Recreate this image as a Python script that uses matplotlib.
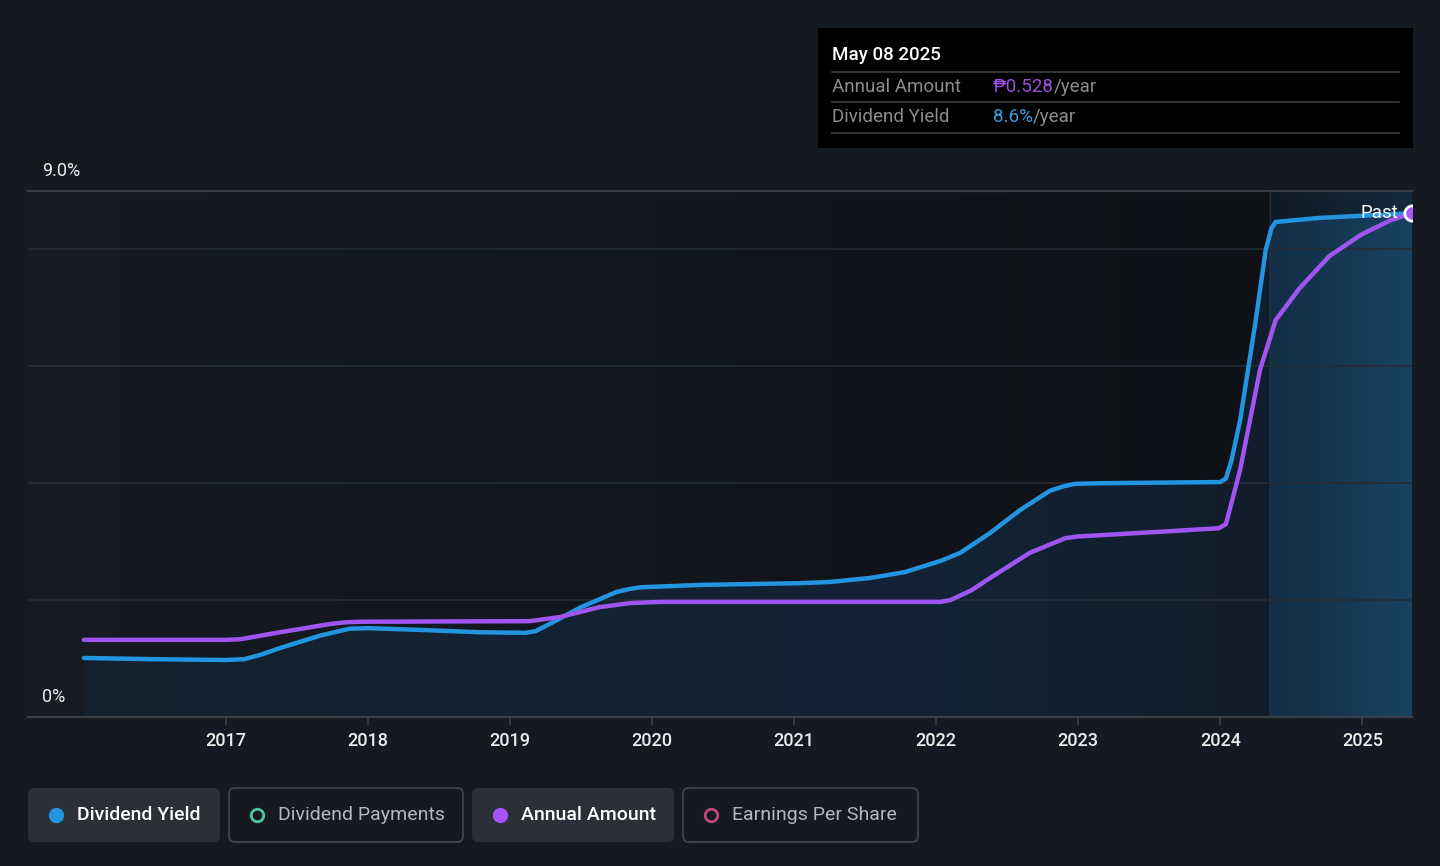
import numpy as np
import matplotlib
matplotlib.use("Agg")
import matplotlib.pyplot as plt
from matplotlib.patches import Rectangle, FancyBboxPatch, Polygon
from matplotlib.colors import to_rgb

plt.rcParams['font.family'] = ['Roboto', 'DejaVu Sans']

# ---- data ----
yield_years = [2016.0, 2016.46, 2017.0, 2017.13, 2017.25, 2017.38, 2017.66, 2017.78,
               2017.87, 2018.0, 2018.37, 2018.79, 2019.11, 2019.18, 2019.3, 2019.5,
               2019.75, 2019.84, 2019.92, 2020.34, 2021.04, 2021.25, 2021.54, 2021.78,
               2022.03, 2022.17, 2022.38, 2022.59, 2022.8, 2022.9, 2022.98, 2023.15,
               2024.0, 2024.04, 2024.08, 2024.14, 2024.25, 2024.32, 2024.36, 2024.39,
               2024.7, 2025.35]
dividend_yield = [1.01, 0.99, 0.975, 0.99, 1.07, 1.18, 1.39, 1.46,
                  1.51, 1.52, 1.49, 1.45, 1.44, 1.47, 1.62, 1.88,
                  2.14, 2.19, 2.22, 2.26, 2.29, 2.31, 2.38, 2.48,
                  2.67, 2.81, 3.15, 3.54, 3.87, 3.95, 3.99, 4.0,
                  4.02, 4.08, 4.4, 5.08, 6.79, 7.99, 8.36, 8.47,
                  8.54, 8.62]

amount_years = [2016.0, 2017.0, 2017.1, 2017.38, 2017.73, 2017.84, 2017.94, 2019.14,
                2019.35, 2019.63, 2019.85, 2020.06, 2022.03, 2022.1, 2022.25, 2022.38,
                2022.66, 2022.91, 2023.0, 2023.15, 2023.65, 2023.99, 2024.04, 2024.14,
                2024.28, 2024.39, 2024.56, 2024.77, 2024.99, 2025.2, 2025.35]
# annual amount, drawn on the yield scale as in the original chart
annual_amount = [1.32, 1.32, 1.33, 1.45, 1.59, 1.62, 1.63, 1.64,
                 1.71, 1.88, 1.95, 1.97, 1.97, 2.0, 2.17, 2.38,
                 2.81, 3.06, 3.09, 3.11, 3.18, 3.23, 3.30, 4.23,
                 5.94, 6.79, 7.34, 7.89, 8.25, 8.5, 8.62]

year_ticks = [2017, 2018, 2019, 2020, 2021, 2022, 2023, 2024, 2025]
past_start = 2024.35
x_min, x_max = 2015.606, 2025.35
y_max = 9.0

legend_items = ["Dividend Yield", "Dividend Payments", "Annual Amount", "Earnings Per Share"]

# ---- colours ----
BG = "#151a22"
BLUE = "#2394df"
PURPLE = "#9f55ef"
GRID = "#262c35"
AXIS = "#3a3f47"
TEXT = "#ececec"

W, H = 1440, 866
fig = plt.figure(figsize=(W / 100, H / 100), dpi=100)
fig.patch.set_facecolor(BG)

# main axes, placed in pixels
px0, px1, py0, py1 = 28, 1412, 191, 717
ax = fig.add_axes([px0 / W, 1 - py1 / H, (px1 - px0) / W, (py1 - py0) / H])
ax.set_xlim(x_min, x_max)
ax.set_ylim(0, y_max)
ax.set_facecolor(BG)
for s in ax.spines.values():
    s.set_visible(False)


def gradient_image(stops, n=600):
    xs = np.linspace(x_min, x_max, n)
    sx = [p for p, _ in stops]
    cols = np.array([to_rgb(c) for _, c in stops])
    img = np.zeros((2, n, 3))
    for k in range(3):
        img[:, :, k] = np.interp(xs, sx, cols[:, k])
    return img


# background of the plotting area
bg_img = gradient_image([(x_min, "#161b24"), (past_start - 0.001, "#0e1116"),
                         (past_start, "#0f1a25"), (x_max, "#13293c")], n=1200)
ax.imshow(bg_img, extent=[x_min, x_max, 0, y_max], aspect='auto',
          interpolation='bilinear', zorder=0)

# area under the dividend yield line
fill_img = gradient_image([(x_min, "#14212f"), (2022.0, "#122335"),
                           (past_start - 0.001, "#111d2a"),
                           (past_start, "#122d45"), (x_max, "#184261")], n=1200)
im = ax.imshow(fill_img, extent=[x_min, x_max, 0, y_max], aspect='auto',
               interpolation='bilinear', zorder=1)
verts = np.column_stack([[yield_years[0]] + yield_years + [yield_years[-1]],
                         [0] + dividend_yield + [0]])
area = Polygon(verts, closed=True, facecolor='none', edgecolor='none')
ax.add_patch(area)
im.set_clip_path(area)

# grid
for g in [2, 4, 6, 8]:
    ax.axhline(g, color=GRID, lw=1.2, zorder=2)
ax.axhline(y_max, color=AXIS, lw=1.6, zorder=2, clip_on=False)
ax.axhline(0, color=AXIS, lw=1.6, zorder=2, clip_on=False)
ax.axvline(past_start, color="#1e3244", lw=1.0, zorder=2)

# lines
ax.plot(yield_years, dividend_yield, color=BLUE, lw=3.2, zorder=4,
        solid_capstyle='round', solid_joinstyle='round')
ax.plot(amount_years, annual_amount, color=PURPLE, lw=3.2, zorder=5,
        solid_capstyle='round', solid_joinstyle='round')
ax.plot([amount_years[-1]], [annual_amount[-1]], 'o', ms=11, mfc="#a855f7",
        mec="white", mew=2, zorder=6, clip_on=True)
ax.text(amount_years[-1] - 0.1, annual_amount[-1], "Past", color="white",
        fontsize=13.5, ha='right', va='center', zorder=7)

# ticks
ax.set_xticks(year_ticks)
ax.set_xticklabels([str(y) for y in year_ticks], fontweight='medium')
ax.set_yticks([])
ax.tick_params(axis='x', colors=AXIS, length=6, width=1.2, pad=5,
               labelcolor=TEXT, labelsize=13)

# overlay axes in pixel coordinates for labels, tooltip and legend
ov = fig.add_axes([0, 0, 1, 1])
ov.set_xlim(0, W)
ov.set_ylim(H, 0)
ov.axis('off')
ov.patch.set_alpha(0)

ov.text(42, 171, "9.0%", color=TEXT, fontsize=13, ha='left', va='center')
ov.text(42, 697, "0%", color=TEXT, fontsize=13, ha='left', va='center')

# tooltip box
ov.add_patch(Rectangle((818, 28), 595, 120, facecolor="black", edgecolor='none'))
ov.text(832, 55, "May 08 2025", color="white", fontsize=13.5, ha='left', va='center',
        fontweight='medium')
for ly in [72, 102, 133]:
    ov.plot([832, 1399], [ly, ly], color="#3a3a3a", lw=1.3)
ov.text(832, 87, "Annual Amount", color="#8c8c8c", fontsize=13.5, ha='left', va='center')
t = ov.text(993, 87, "\u20b10.528", color="#9b4fe0", fontsize=13.5, ha='left', va='center')
ov.annotate("/year", xycoords=t, xy=(1, 0.5), va='center', ha='left',
            color="#8c8c8c", fontsize=13.5)
ov.text(832, 117, "Dividend Yield", color="#8c8c8c", fontsize=13.5, ha='left', va='center')
t = ov.text(993, 117, "8.6%", color="#3a9ad9", fontsize=13.5, ha='left', va='center')
ov.annotate("/year", xycoords=t, xy=(1, 0.5), va='center', ha='left',
            color="#8c8c8c", fontsize=13.5)

# legend buttons
buttons = [
    (28, 192, True, BLUE, True),
    (229, 234, False, "#4fc3a8", False),
    (472, 202, True, "#a855f7", True),
    (683, 235, False, "#c2457e", False),
]
for label, (bx, bw, active, col, filled) in zip(legend_items, buttons):
    by, bh = 788, 54
    if active:
        ov.add_patch(FancyBboxPatch((bx, by), bw, bh, boxstyle="round,pad=0,rounding_size=6",
                                    facecolor="#2a2f38", edgecolor='none'))
    else:
        ov.add_patch(FancyBboxPatch((bx, by), bw, bh, boxstyle="round,pad=0,rounding_size=6",
                                    facecolor='none', edgecolor="#3c4149", lw=1.5))
    cy = by + bh / 2
    if filled:
        ov.plot([bx + 28], [cy], 'o', ms=10, mfc=col, mec=col)
    else:
        ov.plot([bx + 28], [cy], 'o', ms=9, mfc='none', mec=col, mew=2)
    ov.text(bx + 49, cy, label, color="white" if active else "#b4b8be",
            fontsize=14, ha='left', va='center',
            fontweight='medium' if active else 'normal')

fig.savefig("out.png", dpi=100, facecolor=BG)
